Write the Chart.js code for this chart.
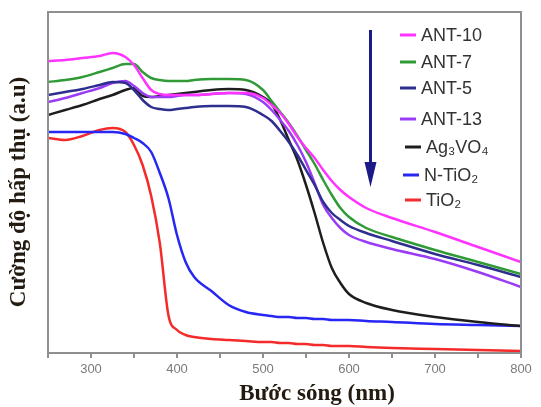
<!DOCTYPE html>
<html>
<head>
<meta charset="utf-8">
<title>UV-Vis</title>
<script src="https://cdn.jsdelivr.net/npm/chart.js@4.4.1/dist/chart.umd.min.js"></script>
<style>
  body { margin: 0; background: #fff; }
  #wrap { width: 541px; height: 407px; }
</style>
</head>
<body>
<div id="wrap"><canvas id="uvChart" width="541" height="407"></canvas></div>
<script>
// wavelengths (nm)
const wavelengths = [250, 270, 290, 310, 325, 340, 350, 360, 370, 380, 390, 400, 410, 420, 440, 460, 480,
  500, 510, 520, 530, 540, 550, 560, 570, 580, 590, 600, 620, 650, 700, 750, 800];

// absorbance (a.u.)
const ant10 = [2.92, 2.93, 2.95, 2.97, 3.00, 2.96, 2.88, 2.75, 2.63, 2.59, 2.58, 2.58, 2.58, 2.58, 2.59, 2.60, 2.60,
  2.55, 2.48, 2.40, 2.29, 2.16, 2.05, 1.95, 1.83, 1.72, 1.63, 1.56, 1.45, 1.35, 1.21, 1.06, 0.91];
const ant7 = [2.71, 2.73, 2.76, 2.81, 2.85, 2.89, 2.89, 2.81, 2.75, 2.73, 2.72, 2.72, 2.72, 2.73, 2.74, 2.74, 2.73,
  2.63, 2.52, 2.41, 2.30, 2.17, 2.03, 1.89, 1.73, 1.58, 1.45, 1.36, 1.25, 1.16, 1.03, 0.91, 0.79];
const ant5 = [2.58, 2.61, 2.64, 2.68, 2.71, 2.70, 2.63, 2.53, 2.46, 2.44, 2.43, 2.44, 2.45, 2.46, 2.47, 2.47, 2.46,
  2.38, 2.32, 2.22, 2.11, 1.98, 1.83, 1.68, 1.51, 1.40, 1.33, 1.27, 1.20, 1.12, 0.99, 0.88, 0.76];
const ant13 = [2.51, 2.55, 2.60, 2.65, 2.70, 2.72, 2.67, 2.60, 2.56, 2.56, 2.56, 2.57, 2.58, 2.58, 2.59, 2.60, 2.59,
  2.51, 2.43, 2.33, 2.22, 2.08, 1.91, 1.70, 1.48, 1.35, 1.25, 1.18, 1.11, 1.04, 0.94, 0.81, 0.66];
const ag3vo4 = [2.38, 2.43, 2.48, 2.54, 2.58, 2.63, 2.65, 2.57, 2.56, 2.57, 2.58, 2.59, 2.60, 2.61, 2.63, 2.64, 2.63,
  2.56, 2.49, 2.33, 2.13, 1.93, 1.68, 1.40, 1.10, 0.85, 0.70, 0.59, 0.50, 0.43, 0.36, 0.31, 0.27];
const nTio2 = [2.21, 2.21, 2.21, 2.21, 2.21, 2.19, 2.15, 2.10, 2.01, 1.80, 1.55, 1.18, 0.91, 0.76, 0.62, 0.48, 0.41,
  0.38, 0.37, 0.36, 0.36, 0.35, 0.35, 0.34, 0.34, 0.33, 0.33, 0.33, 0.32, 0.31, 0.29, 0.28, 0.27];
const tio2 = [2.15, 2.13, 2.17, 2.23, 2.25, 2.21, 2.08, 1.88, 1.57, 1.10, 0.38, 0.23, 0.18, 0.16, 0.14, 0.13, 0.12,
  0.11, 0.11, 0.10, 0.10, 0.09, 0.09, 0.08, 0.08, 0.07, 0.07, 0.07, 0.06, 0.05, 0.04, 0.03, 0.02];

const labels = ['ANT-10', 'ANT-7', 'ANT-5', 'ANT-13', 'Ag₃VO₄', 'N-TiO₂', 'TiO₂'];
const seriesValues = [ant10, ant7, ant5, ant13, ag3vo4, nTio2, tio2];
const colors = ['#ff33ff', '#2f9a36', '#2e2e8e', '#9b3cf5', '#1e1e1e', '#2626f5', '#f52a2a'];
const xTicks = [300, 400, 500, 600, 700, 800];

function toPoints(vals) {
  return vals.map((v, i) => ({ x: wavelengths[i], y: v }));
}

const datasets = labels.map((name, i) => ({
  label: name,
  data: toPoints(seriesValues[i]),
  borderColor: colors[i],
  backgroundColor: colors[i],
  borderWidth: 2.5,
  pointRadius: 0,
  cubicInterpolationMode: 'monotone',
  fill: false
}));

// frame, arrow, legend and axis titles
const decor = {
  id: 'decor',
  afterDatasetsDraw(chart) {
    const ctx = chart.ctx;
    const a = chart.chartArea;
    const xs = chart.scales.x;
    ctx.save();

    // frame
    ctx.strokeStyle = '#8f8f8f';
    ctx.lineWidth = 2;
    ctx.strokeRect(a.left, a.top, a.right - a.left, a.bottom - a.top);

    // arrow
    const ax = xs.getPixelForValue(625);
    ctx.strokeStyle = '#1b1b88';
    ctx.fillStyle = '#1b1b88';
    ctx.lineWidth = 3;
    ctx.beginPath();
    ctx.moveTo(ax, 30);
    ctx.lineTo(ax, 168);
    ctx.stroke();
    ctx.beginPath();
    ctx.moveTo(ax - 6, 162);
    ctx.lineTo(ax + 6, 162);
    ctx.lineTo(ax, 187);
    ctx.closePath();
    ctx.fill();

    // legend
    const rows = [35, 62, 88, 119, 147, 175, 200];
    const lineX = [400, 400, 400, 400, 405, 403, 405];
    ctx.font = '18px "Liberation Sans", Arial, sans-serif';
    ctx.textBaseline = 'middle';
    chart.data.datasets.forEach((ds, i) => {
      ctx.strokeStyle = ds.borderColor;
      ctx.lineWidth = 3;
      ctx.beginPath();
      ctx.moveTo(lineX[i], rows[i]);
      ctx.lineTo(lineX[i] + 16, rows[i]);
      ctx.stroke();
      ctx.fillStyle = '#333';
      ctx.fillText(ds.label, lineX[i] + 21, rows[i] + 1);
    });

    // axis titles
    ctx.fillStyle = '#231a10';
    ctx.font = 'bold 23px "Liberation Serif", "Times New Roman", serif';
    ctx.textAlign = 'center';
    ctx.fillText('Bước sóng (nm)', 317, 394);
    ctx.translate(19, 192);
    ctx.rotate(-Math.PI / 2);
    ctx.fillText('Cường độ hấp thụ (a.u)', 0, 0);
    ctx.restore();
  }
};

const ctx = document.getElementById('uvChart').getContext('2d');
const uvChart = new Chart(ctx, {
  type: 'line',
  data: { datasets: datasets },
  options: {
    responsive: false,
    animation: false,
    devicePixelRatio: 1,
    layout: { padding: { left: 0, top: 12, right: 20, bottom: 0 } },
    plugins: {
      legend: { display: false },
      tooltip: { enabled: false }
    },
    scales: {
      x: {
        type: 'linear',
        min: 250,
        max: 800,
        afterFit(scale) { scale.height = 54; },
        afterBuildTicks(scale) {
          const t = [];
          for (let v = 250; v <= 800; v += 50) t.push({ value: v });
          scale.ticks = t;
        },
        ticks: {
          autoSkip: false,
          maxRotation: 0,
          padding: 4,
          color: '#7a7a7a',
          font: { family: '"Liberation Sans", Arial, sans-serif', size: 13 },
          callback: v => xTicks.includes(v) ? String(v) : ''
        },
        grid: { drawOnChartArea: false, tickLength: 5, color: '#8f8f8f', lineWidth: 2 },
        border: { display: false }
      },
      y: {
        min: 0,
        max: 3.41,
        afterFit(scale) { scale.width = 48; },
        ticks: { display: false },
        grid: { display: false },
        border: { display: false }
      }
    }
  },
  plugins: [decor]
});
</script>
</body>
</html>
